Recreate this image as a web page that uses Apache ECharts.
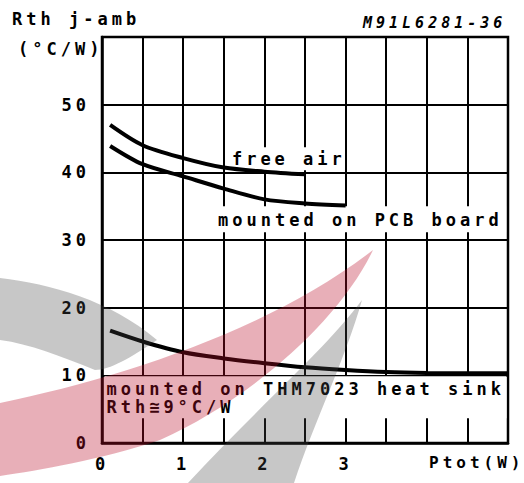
<!DOCTYPE html>
<html>
<head>
<meta charset="utf-8">
<script src="https://cdn.jsdelivr.net/npm/echarts@6/dist/echarts.min.js"></script>
<style>
html, body { margin: 0; padding: 0; background: #fff; }
#chart { width: 524px; height: 483px; }
#chart text { letter-spacing: 4px; }
</style>
</head>
<body>
<div id="chart"></div>
<script>
// Rth j-amb vs Ptot
const powerW = [0.1, 0.5, 1.0, 1.5, 2.0, 2.5, 3.0, 3.5, 4.0, 4.5, 5.0]
const freeAir = [47.0, 44.0, 42.1, 40.7, 40.1, 39.7]
const pcbBoard = [43.9, 41.2, 39.4, 37.6, 36.0, 35.4, 35.1]
const heatSink = [16.6, 15.0, 13.4, 12.5, 11.8, 11.2, 10.8, 10.5, 10.35, 10.3, 10.3]
const xTickLabels = ['0', '1', '2', '3']
const yTickLabels = ['0', '10', '20', '30', '40', '50']

const FONT = '"DejaVu Sans Mono", monospace'

// watermark over the scan
echarts.graphic.registerShape('swooshGrey', echarts.graphic.extendPath('M0 278 C50 284 110 300 157 340 C130 358 110 370 95 370 C60 356 30 344 0 340 Z'))
echarts.graphic.registerShape('swooshRed', echarts.graphic.extendPath('M0 403 C120 378 270 330 373 250 C340 320 250 400 160 440 C100 460 40 470 0 476 Z'))
echarts.graphic.registerShape('swooshGrey2', echarts.graphic.extendPath('M362 300 C325 350 255 410 188 483 L294 483 C315 420 345 360 362 300 Z'))

const chart = echarts.init(document.getElementById('chart'), null, { renderer: 'svg' })

function pairs(ys) {
  return ys.map((y, i) => [powerW[i], y])
}

function textMark(coord, text, width, height, padding) {
  return {
    z: 1,
    silent: true,
    symbol: 'rect',
    symbolSize: 0,
    data: [{ coord }],
    label: {
      show: true,
      formatter: text,
      position: [0, 0],
      align: 'left',
      verticalAlign: 'top',
      color: '#000',
      fontFamily: FONT,
      fontSize: 17,
      fontWeight: 'bold',
      lineHeight: 18,
      backgroundColor: '#fff',
      width,
      height,
      padding
    }
  }
}

const curve = { color: '#000', width: 4 }

chart.setOption({
  animation: false,
  backgroundColor: '#fff',
  grid: { left: 102, right: 16, top: 37, bottom: 40, show: true, borderColor: '#000', borderWidth: 2.5 },
  xAxis: {
    type: 'value',
    min: 0,
    max: 5,
    interval: 0.5,
    axisLine: { lineStyle: { color: '#000', width: 2.5 } },
    axisTick: { show: false },
    splitLine: { lineStyle: { color: '#000', width: 2 } },
    axisLabel: {
      margin: 12,
      color: '#000',
      fontFamily: FONT,
      fontSize: 17,
      fontWeight: 'bold',
      formatter: v => (Number.isInteger(v) && xTickLabels[v] !== undefined ? xTickLabels[v] : '')
    }
  },
  yAxis: {
    type: 'value',
    min: 0,
    max: 60,
    interval: 10,
    axisLine: { lineStyle: { color: '#000', width: 2.5 } },
    axisTick: { show: false },
    splitLine: { lineStyle: { color: '#000', width: 2 } },
    axisLabel: {
      margin: 12,
      color: '#000',
      fontFamily: FONT,
      fontSize: 17,
      fontWeight: 'bold',
      formatter: v => yTickLabels[v / 10] || ''
    }
  },
  series: [
    {
      name: 'free air',
      type: 'line',
      smooth: 0.3,
      symbol: 'none',
      lineStyle: curve,
      data: pairs(freeAir),
      markPoint: textMark([1.6, 43.7], 'free air', 112, 18, [3, 0, 2, 0])
    },
    {
      name: 'mounted on PCB board',
      type: 'line',
      smooth: 0.3,
      symbol: 'none',
      lineStyle: curve,
      data: pairs(pcbBoard),
      markPoint: textMark([1.38, 35.0], 'mounted on PCB board', 286, 18, [5, 2, 3, 4])
    },
    {
      name: 'mounted on THM7023 heat sink',
      type: 'line',
      smooth: 0.3,
      symbol: 'none',
      lineStyle: curve,
      data: pairs(heatSink),
      markPoint: textMark([0.03, 9.85], 'mounted on THM7023 heat sink\nRth≅9°C/W', 398, 36, [4, 2, 2, 2])
    }
  ],
  graphic: [
    { type: 'text', left: 12, top: 10, style: { text: 'Rth j-amb', font: 'bold 17px ' + FONT, fill: '#000' } },
    { type: 'text', left: 18, top: 40, style: { text: '(°C/W)', font: 'bold 17px ' + FONT, fill: '#000' } },
    { type: 'text', left: 363, top: 15, style: { text: 'M91L6281-36', font: 'italic bold 15px ' + FONT, fill: '#000' } },
    { type: 'text', left: 429, top: 454, style: { text: 'Ptot(W)', font: 'bold 16px ' + FONT, fill: '#000' } },
    { type: 'swooshGrey', z: 100, silent: true, style: { fill: 'rgba(70,70,70,0.3)' } },
    { type: 'swooshRed', z: 100, silent: true, style: { fill: 'rgba(185,12,40,0.33)' } },
    { type: 'swooshGrey2', z: 100, silent: true, style: { fill: 'rgba(70,70,70,0.3)' } }
  ]
})
</script>
</body>
</html>
